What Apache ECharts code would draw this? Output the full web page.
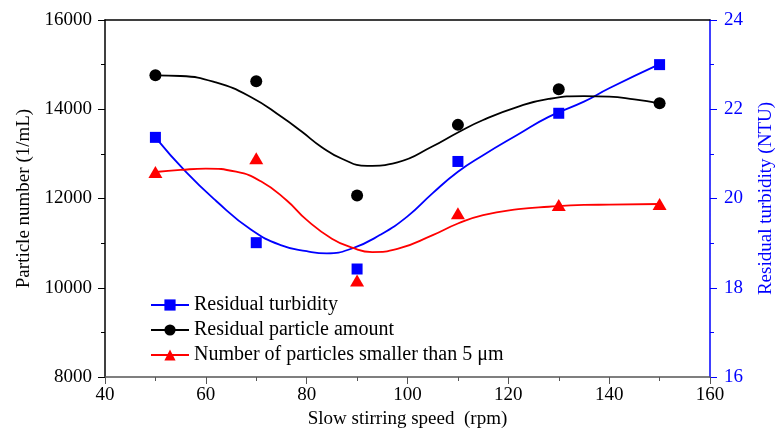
<!DOCTYPE html>
<html>
<head>
<meta charset="utf-8">
<script src="https://cdn.jsdelivr.net/npm/echarts@6/dist/echarts.min.js"></script>
<style>
html,body{margin:0;padding:0;background:#fff;}
#chart{width:775px;height:440px;}
</style>
</head>
<body>
<div id="chart"></div>
<script>
// Measured points
var speeds = [50, 70, 90, 110, 130, 150];
var turbidity = [21.37, 19.01, 18.42, 20.83, 21.91, 23.0];
var particleAmount = [14760, 14625, 12065, 13650, 14450, 14135];
var smallParticles = [12594, 12900, 10160, 11670, 11855, 11877];

// Fitted curves: [speed, value]
var turbidityCurve = [[50,21.37],[56,20.6],[62,19.95],[69,19.3],[75,18.95],[80,18.82],[84,18.77],[89,18.88],[94.5,19.18],[100,19.6],[105,20.12],[110,20.6],[115,20.97],[122,21.44],[128,21.83],[135,22.17],[140,22.47],[150,23.01]];
var amountCurve = [[50,14760],[55,14745],[62,14600],[69,14270],[75,13830],[79,13500],[83,13150],[87,12890],[92,12730],[98,12810],[105,13170],[110,13480],[115,13760],[122,14060],[128,14230],[135,14295],[140,14285],[145,14220],[150,14133]];
var smallCurve = [[50,12594],[55,12640],[60,12670],[66,12600],[71,12380],[76,11960],[80,11520],[85,11100],[89,10900],[93,10800],[98,10870],[105,11180],[110,11440],[115,11630],[122,11760],[128,11815],[135,11855],[140,11862],[150,11877]];

var names = ['Residual turbidity', 'Residual particle amount', 'Number of particles smaller than 5 \u03bcm'];

var FONT = "'Liberation Serif','Times New Roman',serif";
var chart = echarts.init(document.getElementById('chart'), null, {renderer: 'canvas'});

function pts(xs, ys){ return xs.map(function(x,i){ return [x, ys[i]]; }); }
function plain(v){ return String(v); }

chart.setOption({
  animation: false,
  backgroundColor: '#ffffff',
  textStyle: {fontFamily: FONT},
  grid: {left: 105, right: 65, top: 20, bottom: 63, containLabel: false, outerBoundsMode: 'none'},
  legend: {
    data: names,
    orient: 'vertical',
    left: 145,
    top: 290,
    padding: 5,
    itemWidth: 38,
    itemHeight: 14,
    itemGap: 5,
    textStyle: {fontFamily: FONT, fontSize: 20, color: '#000'},
    selectedMode: false
  },
  xAxis: [{
    type: 'value', min: 40, max: 160, interval: 20,
    name: 'Slow stirring speed  (rpm)', nameLocation: 'middle', nameGap: 33,
    nameTextStyle: {fontFamily: FONT, fontSize: 19, color: '#000'},
    axisLine: {lineStyle: {color: '#555', width: 1.5}},
    axisTick: {length: 7, lineStyle: {color: '#555'}},
    minorTick: {show: true, splitNumber: 2, length: 4, lineStyle: {color: '#555'}},
    splitLine: {show: false},
    axisLabel: {fontFamily: FONT, fontSize: 19, color: '#000', margin: 9, formatter: plain}
  }, {
    type: 'value', min: 40, max: 160, position: 'top',
    axisLine: {show: true, lineStyle: {color: '#000', width: 1.5}},
    axisTick: {show: false}, axisLabel: {show: false}, splitLine: {show: false}
  }],
  yAxis: [{
    type: 'value', min: 8000, max: 16000, interval: 2000, position: 'left',
    name: 'Particle number (1/mL)', nameLocation: 'middle', nameGap: 68,
    nameTextStyle: {fontFamily: FONT, fontSize: 19, color: '#000'},
    axisLine: {show: true, lineStyle: {color: '#000', width: 1.5}},
    axisTick: {show: true, length: 7, lineStyle: {color: '#000'}},
    minorTick: {show: true, splitNumber: 2, length: 4, lineStyle: {color: '#000'}},
    splitLine: {show: false},
    axisLabel: {fontFamily: FONT, fontSize: 19, color: '#000', margin: 13, formatter: plain}
  }, {
    type: 'value', min: 16, max: 24, interval: 2, position: 'right',
    name: 'Residual turbidity (NTU)', nameLocation: 'middle', nameGap: 47, nameRotate: 90,
    nameTextStyle: {fontFamily: FONT, fontSize: 19, color: '#0000ff'},
    axisLine: {show: true, lineStyle: {color: '#0000ff', width: 1.5}},
    axisTick: {show: true, length: 7, lineStyle: {color: '#0000ff'}},
    minorTick: {show: true, splitNumber: 2, length: 4, lineStyle: {color: '#0000ff'}},
    splitLine: {show: false},
    axisLabel: {fontFamily: FONT, fontSize: 19, color: '#0000ff', margin: 14, formatter: plain}
  }],
  series: [
    {name: names[0], type: 'line', yAxisIndex: 1, data: turbidityCurve, smooth: 0.5,
     symbol: 'rect', symbolSize: 11, showSymbol: false,
     lineStyle: {color: '#0000ff', width: 1.8}, itemStyle: {color: '#0000ff'}, z: 2},
    {name: names[1], type: 'line', yAxisIndex: 0, data: amountCurve, smooth: 0.5,
     symbol: 'circle', symbolSize: 12, showSymbol: false,
     lineStyle: {color: '#000000', width: 1.8}, itemStyle: {color: '#000000'}, z: 2},
    {name: names[2], type: 'line', yAxisIndex: 0, data: smallCurve, smooth: 0.5,
     symbol: 'triangle', symbolSize: [14, 12], showSymbol: false,
     lineStyle: {color: '#ff0000', width: 1.8}, itemStyle: {color: '#ff0000'}, z: 2},
    {name: names[0], type: 'scatter', yAxisIndex: 1, data: pts(speeds, turbidity),
     symbol: 'rect', symbolSize: 11, itemStyle: {color: '#0000ff', opacity: 1}, z: 3},
    {name: names[1], type: 'scatter', yAxisIndex: 0, data: pts(speeds, particleAmount),
     symbol: 'circle', symbolSize: 12, itemStyle: {color: '#000000', opacity: 1}, z: 3},
    {name: names[2], type: 'scatter', yAxisIndex: 0, data: pts(speeds, smallParticles),
     symbol: 'triangle', symbolSize: [14, 12], itemStyle: {color: '#ff0000', opacity: 1}, z: 3}
  ]
});
</script>
</body>
</html>
